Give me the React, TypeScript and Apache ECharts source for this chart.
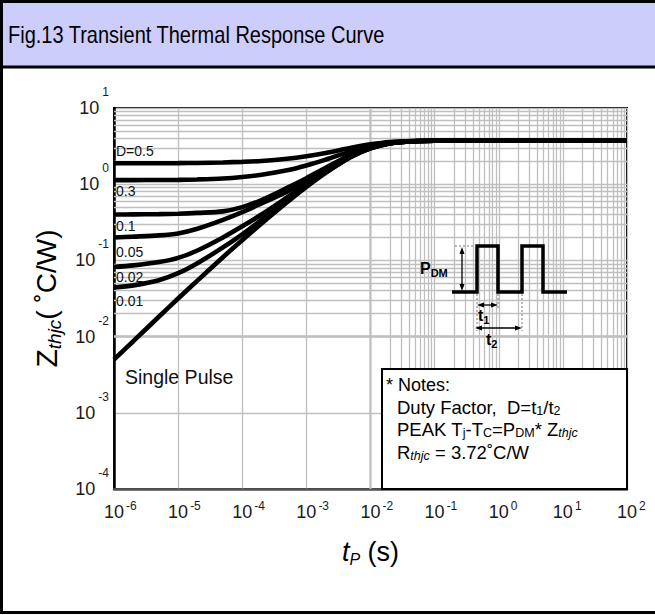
import React, { useEffect, useRef } from "react";
import * as echarts from "echarts";

// Pulse width t_P (s)
const pulseWidths = [1e-6, 2e-6, 5e-6, 1e-5, 2e-5, 5e-5, 1e-4, 2e-4, 5e-4, 1e-3, 2e-3, 5e-3, 1e-2, 2e-2, 5e-2, 1e-1, 1, 10, 100];
// Z_thjc (°C/W) for each duty factor
const zthD05 = [1.88, 1.88, 1.885, 1.89, 1.9, 1.93, 1.965, 2.02, 2.16, 2.33, 2.57, 3.0, 3.33, 3.575, 3.695, 3.72, 3.72, 3.72, 3.72];
const zthD03 = [1.13, 1.132, 1.136, 1.14, 1.155, 1.19, 1.245, 1.33, 1.52, 1.76, 2.1, 2.72, 3.18, 3.52, 3.685, 3.72, 3.72, 3.72, 3.72];
const zthD01 = [0.4, 0.402, 0.405, 0.41, 0.42, 0.44, 0.5, 0.62, 0.895, 1.2, 1.64, 2.43, 3.03, 3.46, 3.675, 3.72, 3.72, 3.72, 3.72];
const zthD005 = [0.2, 0.205, 0.213, 0.226, 0.26, 0.34, 0.43, 0.56, 0.8, 1.1, 1.6, 2.45, 3.0, 3.45, 3.67, 3.72, 3.72, 3.72, 3.72];
const zthD002 = [0.082, 0.086, 0.095, 0.108, 0.135, 0.2, 0.28, 0.4, 0.67, 1.0, 1.48, 2.33, 2.97, 3.44, 3.67, 3.72, 3.72, 3.72, 3.72];
const zthD001 = [0.044, 0.047, 0.055, 0.068, 0.092, 0.148, 0.22, 0.34, 0.62, 0.96, 1.43, 2.3, 2.96, 3.43, 3.67, 3.72, 3.72, 3.72, 3.72];
const zthSingle = [0.005, 0.0087, 0.0182, 0.0316, 0.0543, 0.11, 0.184, 0.305, 0.58, 0.92, 1.41, 2.29, 2.95, 3.43, 3.67, 3.72, 3.72, 3.72, 3.72];

const seriesNames = ["D=0.5", "0.3", "0.1", "0.05", "0.02", "0.01", "Single Pulse"];
const seriesValues = [zthD05, zthD03, zthD01, zthD005, zthD002, zthD001, zthSingle];

// axis ranges (decade exponents)
const xExpMin = -6;
const xExpMax = 2;
const yExpMin = -4;
const yExpMax = 1;
const minorMultipliers = [2, 3, 4, 5, 6, 7, 8, 9];

const FONT = '"Liberation Sans", Arial, sans-serif';

function minorValues(eMin: number, eMax: number) {
  const out: number[] = [];
  for (let e = eMin; e < eMax; e++) {
    for (const m of minorMultipliers) out.push(Number((m * Math.pow(10, e)).toPrecision(6)));
  }
  return out;
}

const GRID_COLOR = "#bfbfbf";

function buildOption() {
  const curveSeries = seriesNames.map((name, i) => ({
    name,
    type: "line",
    showSymbol: false,
    symbol: "none",
    smooth: 0.3,
    silent: true,
    z: 5,
    lineStyle: { color: "#000", width: 4.6 },
    data: pulseWidths.map((t, j) => [t, seriesValues[i][j]]),
  }));

  const gridSeries = {
    name: "minor-grid",
    type: "line",
    data: [],
    silent: true,
    z: 1,
    markLine: {
      silent: true,
      symbol: ["none", "none"],
      animation: false,
      label: { show: false },
      lineStyle: { color: GRID_COLOR, width: 1.3, type: "solid" },
      emphasis: { disabled: true },
      data: [
        ...minorValues(xExpMin, xExpMax).map((v) => ({ xAxis: v })),
        ...minorValues(yExpMin, yExpMax).map((v) => ({ yAxis: v })),
      ],
    },
  };

  const expOf = (v: number) => Math.round(Math.log10(v));

  const sub = (size: number, extra: any = {}) => ({ fontSize: size, fontFamily: FONT, color: "#000", lineHeight: 5, verticalAlign: "bottom", ...extra });

  const graphic: any[] = [
    // title band
    { type: "rect", z: 0, shape: { x: 0, y: 0, width: 655, height: 66 }, style: { fill: "#cdcdfb" } },
    {
      type: "text",
      z: 1,
      x: 8,
      y: 35,
      scaleY: 1.2,
      style: { text: "Fig.13 Transient Thermal Response Curve", fontSize: 20, fontFamily: FONT, fill: "#000", verticalAlign: "middle" },
    },
    { type: "line", z: 30, shape: { x1: 0, y1: 67, x2: 655, y2: 67 }, style: { stroke: "#000", lineWidth: 3 } },
    { type: "rect", z: 30, shape: { x: 1.5, y: 1.5, width: 700, height: 611 }, style: { fill: "none", stroke: "#000", lineWidth: 3 } },

    // curve labels
    { type: "text", z: 12, x: 116, y: 151, style: { text: "D=0.5", fontSize: 14, fontFamily: FONT, fill: "#111", verticalAlign: "middle" } },
    { type: "text", z: 12, x: 116, y: 191, style: { text: "0.3", fontSize: 14, fontFamily: FONT, fill: "#111", verticalAlign: "middle" } },
    { type: "text", z: 12, x: 116, y: 226, style: { text: "0.1", fontSize: 14, fontFamily: FONT, fill: "#111", verticalAlign: "middle" } },
    { type: "text", z: 12, x: 116, y: 252, style: { text: "0.05", fontSize: 14, fontFamily: FONT, fill: "#111", verticalAlign: "middle" } },
    { type: "text", z: 12, x: 116, y: 277, style: { text: "0.02", fontSize: 14, fontFamily: FONT, fill: "#111", verticalAlign: "middle" } },
    { type: "text", z: 12, x: 116, y: 301, style: { text: "0.01", fontSize: 14, fontFamily: FONT, fill: "#111", verticalAlign: "middle" } },
    { type: "text", z: 12, x: 125, y: 377, style: { text: "Single Pulse", fontSize: 19.5, fontFamily: FONT, fill: "#111", verticalAlign: "middle" } },

    // notes box
    { type: "rect", z: 10, shape: { x: 382, y: 369, width: 245, height: 120 }, style: { fill: "#fff", stroke: "#000", lineWidth: 2 } },
    { type: "text", z: 12, x: 386, y: 385, style: { text: "* Notes:", fontSize: 18, fontFamily: FONT, fill: "#000", verticalAlign: "middle" } },
    {
      type: "text", z: 12, x: 397, y: 407,
      style: {
        text: "Duty Factor,  D=t{s|1}/t{s|2}", fontSize: 18.5, lineHeight: 20, fontFamily: FONT, fill: "#000", verticalAlign: "middle",
        rich: { s: sub(12.5) },
      },
    },
    {
      type: "text", z: 12, x: 397, y: 429,
      style: {
        text: "PEAK T{s|j}-T{s|C}=P{s|DM}* Z{si|thjc}", fontSize: 18.5, lineHeight: 20, fontFamily: FONT, fill: "#000", verticalAlign: "middle",
        rich: { s: sub(12.5), si: sub(12.5, { fontStyle: "italic" }) },
      },
    },
    {
      type: "text", z: 12, x: 397, y: 452,
      style: {
        text: "R{si|thjc} = 3.72˚C/W", fontSize: 18.5, lineHeight: 20, fontFamily: FONT, fill: "#000", verticalAlign: "middle",
        rich: { si: sub(12.5, { fontStyle: "italic" }) },
      },
    },

    // pulse diagram
    {
      type: "polyline", z: 12,
      shape: { points: [[452, 292], [477, 292], [477, 246], [498, 246], [498, 292], [522, 292], [522, 246], [543, 246], [543, 292], [567, 292]] },
      style: { stroke: "#000", lineWidth: 3.5, fill: "none", lineJoin: "miter" },
    },
    { type: "line", z: 12, shape: { x1: 455, y1: 246, x2: 476, y2: 246 }, style: { stroke: "#777", lineWidth: 1, lineDash: [2, 2] } },
    { type: "line", z: 12, shape: { x1: 477, y1: 294, x2: 477, y2: 331 }, style: { stroke: "#777", lineWidth: 1, lineDash: [2, 2] } },
    { type: "line", z: 12, shape: { x1: 498, y1: 294, x2: 498, y2: 308 }, style: { stroke: "#777", lineWidth: 1, lineDash: [2, 2] } },
    { type: "line", z: 12, shape: { x1: 522, y1: 294, x2: 522, y2: 331 }, style: { stroke: "#777", lineWidth: 1, lineDash: [2, 2] } },
    // P_DM arrow
    { type: "line", z: 12, shape: { x1: 462, y1: 250, x2: 462, y2: 288 }, style: { stroke: "#000", lineWidth: 1.3 } },
    { type: "polygon", z: 12, shape: { points: [[462, 247], [459.5, 254], [464.5, 254]] }, style: { fill: "#000" } },
    { type: "polygon", z: 12, shape: { points: [[462, 291], [459.5, 284], [464.5, 284]] }, style: { fill: "#000" } },
    // t1 arrow
    { type: "line", z: 12, shape: { x1: 480, y1: 305, x2: 495, y2: 305 }, style: { stroke: "#000", lineWidth: 1.3 } },
    { type: "polygon", z: 12, shape: { points: [[477, 305], [484, 302.5], [484, 307.5]] }, style: { fill: "#000" } },
    { type: "polygon", z: 12, shape: { points: [[498, 305], [491, 302.5], [491, 307.5]] }, style: { fill: "#000" } },
    // t2 arrow
    { type: "line", z: 12, shape: { x1: 478, y1: 328, x2: 519, y2: 328 }, style: { stroke: "#000", lineWidth: 1.3 } },
    { type: "polygon", z: 12, shape: { points: [[475, 328], [482, 325.5], [482, 330.5]] }, style: { fill: "#000" } },
    { type: "polygon", z: 12, shape: { points: [[522, 328], [515, 325.5], [515, 330.5]] }, style: { fill: "#000" } },
    {
      type: "text", z: 12, x: 420, y: 268,
      style: { text: "P{s|DM}", fontSize: 16, fontWeight: "bold", lineHeight: 20, fontFamily: FONT, fill: "#000", verticalAlign: "middle", rich: { s: sub(11, { fontWeight: "bold", lineHeight: 8 }) } },
    },
    {
      type: "text", z: 12, x: 478, y: 315,
      style: { text: "t{s|1}", fontSize: 16, fontWeight: "bold", lineHeight: 20, fontFamily: FONT, fill: "#000", verticalAlign: "middle", rich: { s: sub(11, { fontWeight: "bold", lineHeight: 6 }) } },
    },
    {
      type: "text", z: 12, x: 486, y: 339,
      style: { text: "t{s|2}", fontSize: 16, fontWeight: "bold", lineHeight: 20, fontFamily: FONT, fill: "#000", verticalAlign: "middle", rich: { s: sub(11, { fontWeight: "bold", lineHeight: 6 }) } },
    },
  ];

  return {
    animation: false,
    backgroundColor: "#fff",
    textStyle: { fontFamily: FONT },
    grid: {
      left: 114, top: 108, right: 28, bottom: 126,
      show: true, borderColor: "#000", borderWidth: 2, backgroundColor: "transparent",
    },
    xAxis: {
      type: "log",
      logBase: 10,
      min: Math.pow(10, xExpMin),
      max: Math.pow(10, xExpMax),
      interval: 1,
      axisLine: { show: true, onZero: false, lineStyle: { color: "#555", width: 2.5 } },
      axisTick: { show: false },
      splitLine: { show: true, lineStyle: { color: GRID_COLOR, width: 1.3 } },
      axisLabel: {
        margin: 11,
        formatter: (v: number) => {
          const e = expOf(v);
          return `{h|${e}}{b|10}{s|${e}}`;
        },
        rich: {
          h: { fontSize: 12, fontFamily: FONT, color: "transparent", verticalAlign: "top", lineHeight: 8, padding: [0, 2, 0, 0] },
          b: { fontSize: 18, fontFamily: FONT, color: "#1a1a1a", lineHeight: 24 },
          s: { fontSize: 12, fontFamily: FONT, color: "#1a1a1a", verticalAlign: "top", lineHeight: 8, padding: [0, 0, 0, 2] },
        },
      },
      name: "{t|t}{p|P}{u| (s)}",
      nameLocation: "middle",
      nameGap: 48,
      nameTextStyle: {
        rich: {
          t: { fontSize: 27, fontStyle: "italic", fontFamily: FONT, color: "#000", lineHeight: 30 },
          p: { fontSize: 16, fontStyle: "italic", fontFamily: FONT, color: "#000", lineHeight: 12, verticalAlign: "bottom" },
          u: { fontSize: 27, fontFamily: FONT, color: "#000", lineHeight: 30 },
        },
      },
    },
    yAxis: {
      type: "log",
      logBase: 10,
      min: Math.pow(10, yExpMin),
      max: Math.pow(10, yExpMax),
      interval: 1,
      axisLine: { show: true, onZero: false, lineStyle: { color: "#000", width: 2.5 } },
      axisTick: { show: false },
      splitLine: { show: true, lineStyle: { color: GRID_COLOR, width: 1.3 } },
      axisLabel: {
        margin: 5,
        formatter: (v: number) => {
          const e = expOf(v);
          return `{b|10}{s|${e}}`;
        },
        rich: {
          b: { fontSize: 18, fontFamily: FONT, color: "#1a1a1a", lineHeight: 44 },
          s: { fontSize: 12, fontFamily: FONT, color: "#1a1a1a", verticalAlign: "top", lineHeight: 8, padding: [0, 0, 0, 3] },
        },
      },
      name: "{z|Z}{sub|thjc}{p|( ˚C/W)}",
      nameLocation: "middle",
      nameRotate: 90,
      nameGap: 44,
      nameTextStyle: {
        rich: {
          z: { fontSize: 30, fontFamily: FONT, color: "#000", lineHeight: 36 },
          sub: { fontSize: 19, fontStyle: "italic", fontFamily: FONT, color: "#000", lineHeight: 22, verticalAlign: "bottom" },
          p: { fontSize: 28, fontFamily: FONT, color: "#000", lineHeight: 36 },
        },
      },
    },
    series: [gridSeries, ...curveSeries],
    graphic,
  };
}

export default function App() {
  const ref = useRef<HTMLDivElement>(null);
  useEffect(() => {
    if (!ref.current) return;
    const chart = echarts.init(ref.current, null, { renderer: "svg" });
    chart.setOption(buildOption() as any);
    return () => chart.dispose();
  }, []);
  return (
    <div
      ref={ref}
      style={{ position: "absolute", left: 0, top: 0, width: 655, height: 615, background: "#fff" }}
    />
  );
}
